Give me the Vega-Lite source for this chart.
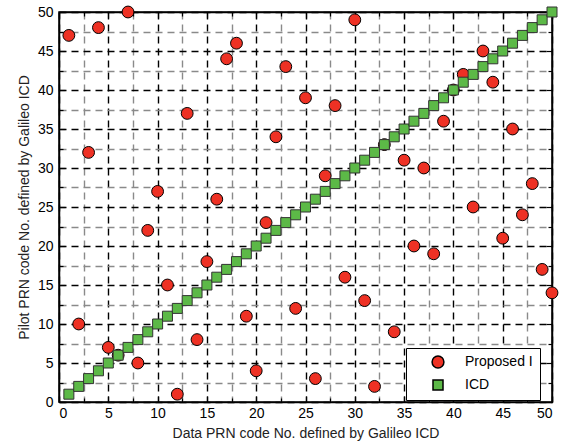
{
  "$schema": "https://vega.github.io/schema/vega-lite/v6.json",
  "width": 493,
  "height": 390,
  "autosize": {"type": "none"},
  "padding": {"left": 59, "top": 12, "right": 10, "bottom": 43},
  "background": "white",
  "config": {
    "font": "Liberation Sans",
    "view": {"stroke": "black", "strokeWidth": 1.5},
    "axis": {
      "labelFont": "Liberation Sans",
      "titleFont": "Liberation Sans",
      "labelFontSize": 14,
      "titleFontSize": 14,
      "titleFontWeight": "normal",
      "labelColor": "black",
      "titleColor": "#222",
      "domainColor": "black",
      "domainWidth": 1.5,
      "tickColor": "black",
      "tickWidth": 1.2,
      "gridDash": [7, 5],
      "gridWidth": 1.4,
      "gridOpacity": 1
    }
  },
  "data": {
    "values": [
      {"x": 1, "y": 47, "series": "Proposed I"},
      {"x": 2, "y": 10, "series": "Proposed I"},
      {"x": 3, "y": 32, "series": "Proposed I"},
      {"x": 4, "y": 48, "series": "Proposed I"},
      {"x": 5, "y": 7, "series": "Proposed I"},
      {"x": 6, "y": 6, "series": "Proposed I"},
      {"x": 7, "y": 50, "series": "Proposed I"},
      {"x": 8, "y": 5, "series": "Proposed I"},
      {"x": 9, "y": 22, "series": "Proposed I"},
      {"x": 10, "y": 27, "series": "Proposed I"},
      {"x": 11, "y": 15, "series": "Proposed I"},
      {"x": 12, "y": 1, "series": "Proposed I"},
      {"x": 13, "y": 37, "series": "Proposed I"},
      {"x": 14, "y": 8, "series": "Proposed I"},
      {"x": 15, "y": 18, "series": "Proposed I"},
      {"x": 16, "y": 26, "series": "Proposed I"},
      {"x": 17, "y": 44, "series": "Proposed I"},
      {"x": 18, "y": 46, "series": "Proposed I"},
      {"x": 19, "y": 11, "series": "Proposed I"},
      {"x": 20, "y": 4, "series": "Proposed I"},
      {"x": 21, "y": 23, "series": "Proposed I"},
      {"x": 22, "y": 34, "series": "Proposed I"},
      {"x": 23, "y": 43, "series": "Proposed I"},
      {"x": 24, "y": 12, "series": "Proposed I"},
      {"x": 25, "y": 39, "series": "Proposed I"},
      {"x": 26, "y": 3, "series": "Proposed I"},
      {"x": 27, "y": 29, "series": "Proposed I"},
      {"x": 28, "y": 38, "series": "Proposed I"},
      {"x": 29, "y": 16, "series": "Proposed I"},
      {"x": 30, "y": 49, "series": "Proposed I"},
      {"x": 31, "y": 13, "series": "Proposed I"},
      {"x": 32, "y": 2, "series": "Proposed I"},
      {"x": 33, "y": 33, "series": "Proposed I"},
      {"x": 34, "y": 9, "series": "Proposed I"},
      {"x": 35, "y": 31, "series": "Proposed I"},
      {"x": 36, "y": 20, "series": "Proposed I"},
      {"x": 37, "y": 30, "series": "Proposed I"},
      {"x": 38, "y": 19, "series": "Proposed I"},
      {"x": 39, "y": 36, "series": "Proposed I"},
      {"x": 40, "y": 40, "series": "Proposed I"},
      {"x": 41, "y": 42, "series": "Proposed I"},
      {"x": 42, "y": 25, "series": "Proposed I"},
      {"x": 43, "y": 45, "series": "Proposed I"},
      {"x": 44, "y": 41, "series": "Proposed I"},
      {"x": 45, "y": 21, "series": "Proposed I"},
      {"x": 46, "y": 35, "series": "Proposed I"},
      {"x": 47, "y": 24, "series": "Proposed I"},
      {"x": 48, "y": 28, "series": "Proposed I"},
      {"x": 49, "y": 17, "series": "Proposed I"},
      {"x": 50, "y": 14, "series": "Proposed I"},
      {"x": 1, "y": 1, "series": "ICD"},
      {"x": 2, "y": 2, "series": "ICD"},
      {"x": 3, "y": 3, "series": "ICD"},
      {"x": 4, "y": 4, "series": "ICD"},
      {"x": 5, "y": 5, "series": "ICD"},
      {"x": 6, "y": 6, "series": "ICD"},
      {"x": 7, "y": 7, "series": "ICD"},
      {"x": 8, "y": 8, "series": "ICD"},
      {"x": 9, "y": 9, "series": "ICD"},
      {"x": 10, "y": 10, "series": "ICD"},
      {"x": 11, "y": 11, "series": "ICD"},
      {"x": 12, "y": 12, "series": "ICD"},
      {"x": 13, "y": 13, "series": "ICD"},
      {"x": 14, "y": 14, "series": "ICD"},
      {"x": 15, "y": 15, "series": "ICD"},
      {"x": 16, "y": 16, "series": "ICD"},
      {"x": 17, "y": 17, "series": "ICD"},
      {"x": 18, "y": 18, "series": "ICD"},
      {"x": 19, "y": 19, "series": "ICD"},
      {"x": 20, "y": 20, "series": "ICD"},
      {"x": 21, "y": 21, "series": "ICD"},
      {"x": 22, "y": 22, "series": "ICD"},
      {"x": 23, "y": 23, "series": "ICD"},
      {"x": 24, "y": 24, "series": "ICD"},
      {"x": 25, "y": 25, "series": "ICD"},
      {"x": 26, "y": 26, "series": "ICD"},
      {"x": 27, "y": 27, "series": "ICD"},
      {"x": 28, "y": 28, "series": "ICD"},
      {"x": 29, "y": 29, "series": "ICD"},
      {"x": 30, "y": 30, "series": "ICD"},
      {"x": 31, "y": 31, "series": "ICD"},
      {"x": 32, "y": 32, "series": "ICD"},
      {"x": 33, "y": 33, "series": "ICD"},
      {"x": 34, "y": 34, "series": "ICD"},
      {"x": 35, "y": 35, "series": "ICD"},
      {"x": 36, "y": 36, "series": "ICD"},
      {"x": 37, "y": 37, "series": "ICD"},
      {"x": 38, "y": 38, "series": "ICD"},
      {"x": 39, "y": 39, "series": "ICD"},
      {"x": 40, "y": 40, "series": "ICD"},
      {"x": 41, "y": 41, "series": "ICD"},
      {"x": 42, "y": 42, "series": "ICD"},
      {"x": 43, "y": 43, "series": "ICD"},
      {"x": 44, "y": 44, "series": "ICD"},
      {"x": 45, "y": 45, "series": "ICD"},
      {"x": 46, "y": 46, "series": "ICD"},
      {"x": 47, "y": 47, "series": "ICD"},
      {"x": 48, "y": 48, "series": "ICD"},
      {"x": 49, "y": 49, "series": "ICD"},
      {"x": 50, "y": 50, "series": "ICD"}
    ]
  },
  "encoding": {
    "color": {
      "field": "series",
      "type": "nominal",
      "scale": {"domain": ["Proposed I", "ICD"], "range": ["#EE3124", "#5CB947"]},
      "legend": {
        "title": null,
        "orient": "none",
        "legendX": 347,
        "legendY": 336,
        "strokeColor": "black",
        "fillColor": "white",
        "padding": 7,
        "labelFontSize": 14,
        "labelFont": "Liberation Sans",
        "labelColor": "black",
        "rowPadding": 6,
        "labelOffset": 20,
        "symbolOffset": 18,
        "encode": {
          "symbols": {
            "update": {
              "stroke": {"value": "black"},
              "strokeWidth": {"value": 1},
              "opacity": {"value": 1}
            }
          }
        }
      }
    },
    "shape": {
      "field": "series",
      "type": "nominal",
      "scale": {"domain": ["Proposed I", "ICD"], "range": ["circle", "square"]},
      "legend": {"title": null}
    },
    "size": {
      "field": "series",
      "type": "nominal",
      "scale": {"type": "ordinal", "domain": ["Proposed I", "ICD"], "range": [140, 100]},
      "legend": {"title": null}
    }
  },
  "layer": [
    {
      "transform": [{"filter": "datum.series === 'Proposed I'"}],
      "mark": {"type": "point", "filled": true, "stroke": "black", "strokeWidth": 1, "opacity": 1},
      "encoding": {
        "x": {
          "field": "x",
          "type": "quantitative",
          "scale": {"domain": [0, 50], "nice": false},
          "axis": {
            "title": "Data PRN code No. defined by Galileo ICD",
            "values": [0, 2.5, 5, 7.5, 10, 12.5, 15, 17.5, 20, 22.5, 25, 27.5, 30, 32.5, 35, 37.5, 40, 42.5, 45, 47.5, 50],
            "labelExpr": "datum.value % 5 === 0 ? datum.label : ''",
            "tickSize": {"condition": {"test": "datum.value % 5 === 0", "value": -6}, "value": -4},
            "labelPadding": 10,
            "titlePadding": 6,
            "gridColor": {"condition": {"test": "datum.value % 5 === 0", "value": "#000000"}, "value": "#8a8a8a"}
          }
        },
        "y": {
          "field": "y",
          "type": "quantitative",
          "scale": {"domain": [0, 50], "nice": false},
          "axis": {
            "title": "Pilot PRN code No. defined by Galileo ICD",
            "values": [0, 2.5, 5, 7.5, 10, 12.5, 15, 17.5, 20, 22.5, 25, 27.5, 30, 32.5, 35, 37.5, 40, 42.5, 45, 47.5, 50],
            "labelExpr": "datum.value % 5 === 0 ? datum.label : ''",
            "tickSize": {"condition": {"test": "datum.value % 5 === 0", "value": -6}, "value": -4},
            "labelPadding": 12,
            "titlePadding": 6,
            "gridColor": {"condition": {"test": "datum.value % 5 === 0", "value": "#000000"}, "value": "#8a8a8a"}
          }
        }
      }
    },
    {
      "transform": [{"filter": "datum.series === 'ICD'"}],
      "mark": {"type": "point", "filled": true, "stroke": "#333", "strokeWidth": 1, "opacity": 1},
      "encoding": {
        "x": {"field": "x", "type": "quantitative", "axis": null},
        "y": {"field": "y", "type": "quantitative", "axis": null}
      }
    },
    {
      "transform": [{"filter": "datum.series === 'ICD'"}],
      "mark": {"type": "point", "opacity": 0},
      "encoding": {
        "x": {
          "field": "x",
          "type": "quantitative",
          "axis": {
            "orient": "top",
            "title": null,
            "grid": false,
            "labels": false,
            "values": [0, 2.5, 5, 7.5, 10, 12.5, 15, 17.5, 20, 22.5, 25, 27.5, 30, 32.5, 35, 37.5, 40, 42.5, 45, 47.5, 50],
            "tickSize": {"condition": {"test": "datum.value % 5 === 0", "value": -6}, "value": -4}
          }
        },
        "y": {
          "field": "y",
          "type": "quantitative",
          "axis": {
            "orient": "right",
            "title": null,
            "grid": false,
            "labels": false,
            "values": [0, 2.5, 5, 7.5, 10, 12.5, 15, 17.5, 20, 22.5, 25, 27.5, 30, 32.5, 35, 37.5, 40, 42.5, 45, 47.5, 50],
            "tickSize": {"condition": {"test": "datum.value % 5 === 0", "value": -6}, "value": -4}
          }
        },
        "color": {"value": "transparent"},
        "shape": {"value": "circle"},
        "size": {"value": 10}
      }
    }
  ],
  "resolve": {"axis": {"x": "independent", "y": "independent"}}
}
